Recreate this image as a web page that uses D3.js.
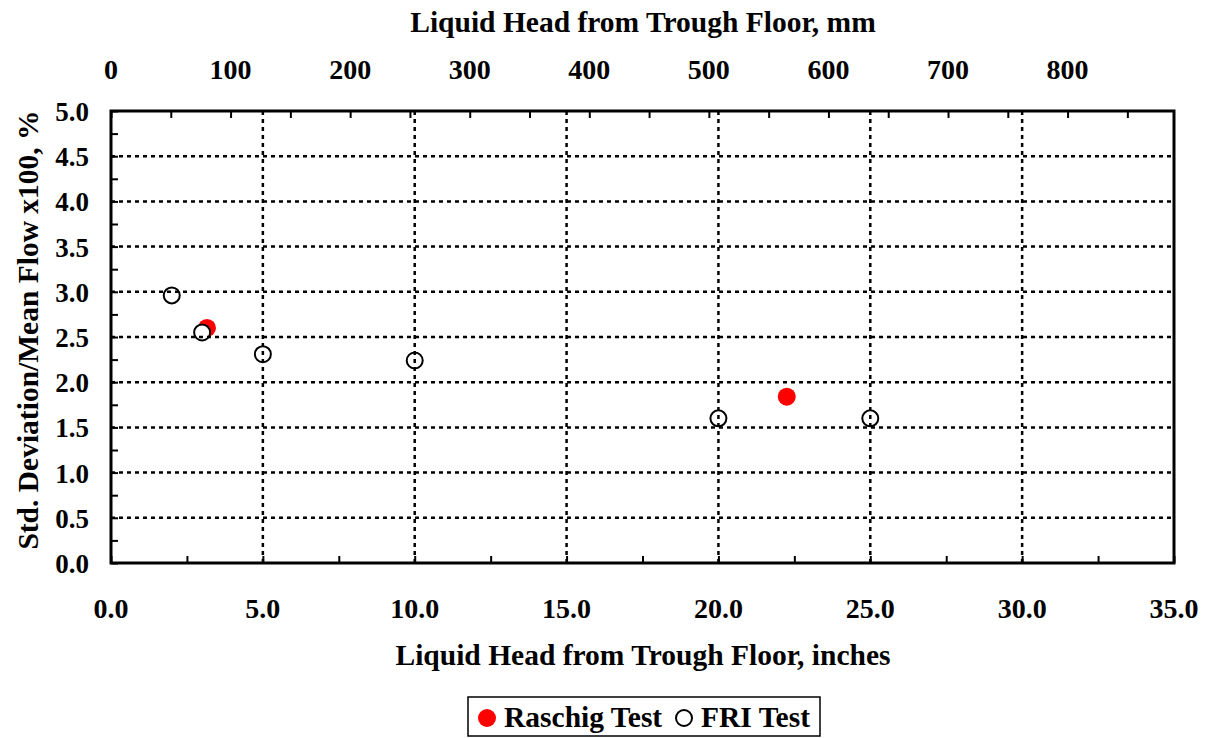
<!DOCTYPE html>
<html><head><meta charset="utf-8">
<script src="https://cdn.jsdelivr.net/npm/d3@7"></script>
<style>body{margin:0;background:#fff}svg{display:block}text{font-family:"Liberation Serif","Times New Roman",serif;font-weight:bold;fill:#000}</style>
</head><body><svg id="c" width="1209" height="738"></svg>
<script>
const raschigX = [3.16, 22.25];
const raschigY = [2.60, 1.84];
const friX = [2.0, 3.0, 5.0, 10.0, 20.0, 25.0];
const friY = [2.96, 2.55, 2.31, 2.24, 1.60, 1.60];
const xTicks = [0,5,10,15,20,25,30,35];
const yTicks = [0,0.5,1,1.5,2,2.5,3,3.5,4,4.5,5];
const mmTicks = [0,100,200,300,400,500,600,700,800];

const svg = d3.select("#c");
const L=111, R=1174, T=111, B=563;
const x = d3.scaleLinear().domain([0,35]).range([L,R]);
const y = d3.scaleLinear().domain([0,5]).range([B,T]);
const xmm = d3.scaleLinear().domain([0,35*25.4]).range([L,R]);

// markers
svg.append("g").selectAll("circle").data(raschigX.map((v,i)=>[v,raschigY[i]])).join("circle")
 .attr("cx",d=>x(d[0])).attr("cy",d=>y(d[1])).attr("r",9).attr("fill","#ff0000");
svg.append("g").selectAll("circle").data(friX.map((v,i)=>[v,friY[i]])).join("circle")
 .attr("cx",d=>x(d[0])).attr("cy",d=>y(d[1])).attr("r",8).attr("fill","#fff").attr("stroke","#000").attr("stroke-width",2);

// grid
const g = svg.append("g").attr("stroke","#000").attr("stroke-width",2.5).attr("stroke-dasharray","4,4");
g.selectAll("line.v").data(xTicks.filter(t=>t>0&&t<35)).join("line")
 .attr("x1",d=>x(d)).attr("x2",d=>x(d)).attr("y1",B).attr("y2",T);
g.selectAll("line.h").data(yTicks.filter(t=>t>0&&t<5)).join("line").attr("class","h")
 .attr("y1",d=>y(d)).attr("y2",d=>y(d)).attr("x1",L).attr("x2",R);

// axes with inward ticks
const fmt = d3.format(".1f");
const axB = d3.axisBottom(x).tickValues(d3.range(0,35.01,2.5)).tickSize(-7).tickFormat("");
const axL = d3.axisLeft(y).tickValues(d3.range(0,5.01,0.25)).tickSize(-7).tickFormat("");
const axT = d3.axisTop(xmm).tickValues(d3.range(0,889,50)).tickSize(-7).tickFormat("");
function style(sel){sel.selectAll(".domain").remove();sel.selectAll("line").attr("stroke","#000").attr("stroke-width",2);}
svg.append("g").attr("transform",`translate(0,${B})`).call(axB).call(style);
svg.append("g").attr("transform",`translate(${L},0)`).call(axL).call(style);
svg.append("g").attr("transform",`translate(0,${T})`).call(axT).call(style);

svg.append("rect").attr("x",L).attr("y",T).attr("width",R-L).attr("height",B-T)
 .attr("fill","none").attr("stroke","#000").attr("stroke-width",3);

// labels
svg.append("g").selectAll("text").data(xTicks).join("text")
 .attr("x",d=>x(d)).attr("y",618).attr("text-anchor","middle").attr("font-size",28).text(d=>fmt(d));
svg.append("g").selectAll("text").data(yTicks).join("text")
 .attr("x",89).attr("y",d=>y(d)+10).attr("text-anchor","end").attr("font-size",27).text(d=>fmt(d));
svg.append("g").selectAll("text").data(mmTicks).join("text")
 .attr("x",d=>xmm(d)).attr("y",79).attr("text-anchor","middle").attr("font-size",28).text(d=>d);

svg.append("text").attr("x",643).attr("y",665).attr("text-anchor","middle").attr("font-size",29.5)
 .text("Liquid Head from Trough Floor, inches");
svg.append("text").attr("x",643).attr("y",32).attr("text-anchor","middle").attr("font-size",29.5)
 .text("Liquid Head from Trough Floor, mm");
svg.append("text").attr("transform",`translate(38,330) rotate(-90)`).attr("text-anchor","middle").attr("font-size",29.5)
 .text("Std. Deviation/Mean Flow x100, %");

// legend
const lg = svg.append("g");
lg.append("rect").attr("x",468).attr("y",697).attr("width",352).attr("height",39).attr("fill","#fff").attr("stroke","#000").attr("stroke-width",1.5);
lg.append("circle").attr("cx",487).attr("cy",718).attr("r",9).attr("fill","#ff0000");
lg.append("text").attr("x",504).attr("y",727).attr("font-size",29.5).text("Raschig Test");
lg.append("circle").attr("cx",684).attr("cy",718).attr("r",8).attr("fill","#fff").attr("stroke","#000").attr("stroke-width",2);
lg.append("text").attr("x",701).attr("y",727).attr("font-size",29.5).text("FRI Test");
</script></body></html>
